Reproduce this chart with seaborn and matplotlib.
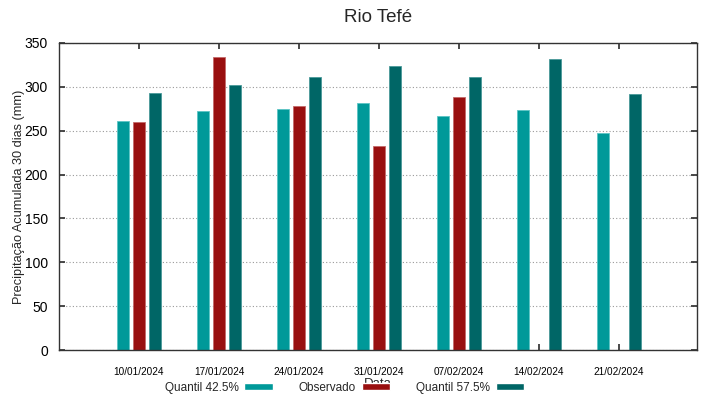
import numpy as np
import pandas as pd
import matplotlib
matplotlib.use('Agg')
import matplotlib.pyplot as plt
import seaborn as sns

sns.set_theme(style='white')
plt.rcParams['font.family'] = ['Liberation Sans', 'DejaVu Sans']

datas = ['10/01/2024', '17/01/2024', '24/01/2024', '31/01/2024',
         '07/02/2024', '14/02/2024', '21/02/2024']
q425 = [261, 272, 275, 282, 267, 274, 247]
observado = [260, 334, 278, 233, 289, np.nan, np.nan]
q575 = [293, 302, 311, 324, 311, 332, 292]

series = ['Quantil 42.5%', 'Observado', 'Quantil 57.5%']
cores = ['#009999', '#990f0f', '#006666']
bordas = ['#5cc4c4', '#c46a6a', '#4a9a9a']

df = pd.DataFrame({
    'Data': datas * 3,
    'valor': q425 + observado + q575,
    'serie': [s for s in series for _ in datas],
})

fig = plt.figure(figsize=(7.19, 3.99), dpi=100)
ax = fig.add_axes([59 / 719, 1 - 350 / 399, (697 - 59) / 719, (350 - 43) / 399])

sns.barplot(data=df, x='Data', y='valor', hue='serie', order=datas, hue_order=series,
            palette=cores, saturation=1, width=0.6, gap=0.19, errorbar=None, ax=ax, legend=True)

for cont, bc in zip(ax.containers, bordas):
    for p in cont:
        p.set_edgecolor(bc)
        p.set_linewidth(0.6)

ax.set_xlim(-1, 6.975)
ax.set_ylim(0, 350)
ax.set_yticks(range(0, 351, 50))
ax.yaxis.grid(True, color='#999999', linestyle=(0, (1, 2)), linewidth=0.8)
ax.set_axisbelow(True)
for s in ax.spines.values():
    s.set_color('#333333')
    s.set_linewidth(1.0)
ax.tick_params(axis='x', which='both', direction='in', top=True, bottom=True,
               length=4, labelsize=7.2, colors='#333333', labelcolor='black', pad=12)
ax.tick_params(axis='y', which='both', direction='in', left=True, right=True,
               length=4, labelsize=10, colors='#333333', labelcolor='black', pad=8)

ax.set_title('Rio Tefé', fontsize=13.5, pad=15)
ax.set_ylabel('Precipitação Acumulada 30 dias (mm)', fontsize=9.2, labelpad=0)
ax.set_xlabel('Data', fontsize=9.5, labelpad=1)

handles, labels = ax.get_legend_handles_labels()
ax.legend(handles, labels, ncol=3, markerfirst=False, frameon=False,
          loc='center', bbox_to_anchor=((344.5 - 59) / 638, -38 / 307), fontsize=8.5,
          handlelength=2.4, handleheight=0.5, columnspacing=2.2, handletextpad=0.5,
          borderaxespad=0, borderpad=0)

fig.savefig('out.png', dpi=100)
